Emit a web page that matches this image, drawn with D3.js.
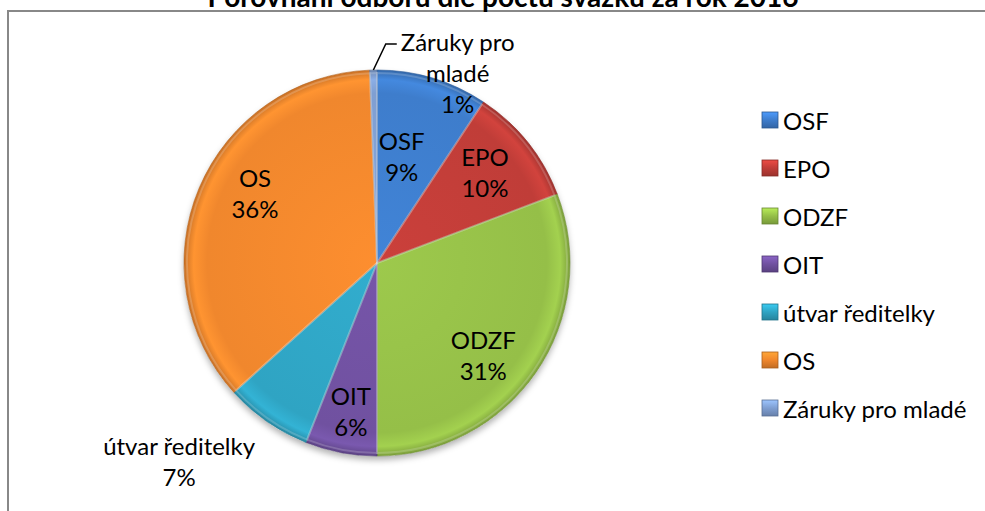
<!DOCTYPE html>
<html>
<head>
<meta charset="utf-8">
<script src="https://cdn.jsdelivr.net/npm/d3@7"></script>
<style>
body { margin: 0; background: #fff; }
svg { font-family: Lato, "Noto Sans", sans-serif; display: block; }
</style>
</head>
<body>
<div class="canvas"></div>
<script>
const title = 'Porovnání odborů dle počtu svazků za rok 2016';
const names = ['OSF', 'EPO', 'ODZF', 'OIT', 'útvar ředitelky', 'OS', 'Záruky pro mladé'];
const shares = [9.3, 9.9, 30.8, 6.0, 7.3, 36.1, 0.6];
const colours = ['#3e7dcc', '#c03d38', '#95bf48', '#7051a0', '#2fa4c3', '#f0872d', '#7f9fd2'];

// label placement: [angle deg from north, distance as fraction of radius]
const labelPolar = [[13, 0.57], [50, 0.73], [131, 0.73], [190, 0.78], [225, 1.45], [300, 0.73], [23, 1.07]];
const labelLines = [['OSF'], ['EPO'], ['ODZF'], ['OIT'], ['útvar ředitelky'], ['OS'], ['Záruky pro', 'mladé']];

const dims = { width: 985, height: 511, radius: 193 };
const cent = { x: 377, y: 263 };
const lineH = 31;
const fontSize = 24;

const data = names.map((n, i) => ({ name: n, value: shares[i], i }));
const total = d3.sum(shares);

const svg = d3.select('.canvas')
    .append('svg')
    .attr('width', dims.width)
    .attr('height', dims.height);

const defs = svg.append('defs');

defs.append('filter')
    .attr('id', 'shadow')
    .attr('x', '-20%').attr('y', '-20%').attr('width', '140%').attr('height', '140%')
    .append('feDropShadow')
    .attr('dx', 0).attr('dy', 4)
    .attr('stdDeviation', 3)
    .attr('flood-color', '#000')
    .attr('flood-opacity', 0.3);

// chart frame (top + left visible)
svg.append('path')
    .attr('d', `M8,${dims.height} V11 H${dims.width}`)
    .attr('fill', 'none')
    .attr('stroke', '#888')
    .attr('stroke-width', 2);

// title, partially cut at the top like the reference
svg.append('text')
    .attr('x', 503)
    .attr('y', 7)
    .attr('text-anchor', 'middle')
    .attr('font-weight', 'bold')
    .attr('font-size', 28)
    .attr('fill', '#000')
    .text(title);

const colour = d3.scaleOrdinal().domain(names).range(colours);

const pie = d3.pie()
    .sort(null)
    .value(d => d.value);

const arcPath = d3.arc()
    .outerRadius(dims.radius)
    .innerRadius(0);

// gradients for a soft bevel look
data.forEach(d => {
    const c = colour(d.name);
    const g = defs.append('radialGradient')
        .attr('id', `grad${d.i}`)
        .attr('gradientUnits', 'userSpaceOnUse')
        .attr('cx', 0).attr('cy', 0).attr('r', dims.radius);
    g.append('stop').attr('offset', '0%').attr('stop-color', d3.color(c).brighter(0.15));
    g.append('stop').attr('offset', '88%').attr('stop-color', c);
    g.append('stop').attr('offset', '95%').attr('stop-color', d3.color(c).brighter(0.25));
    g.append('stop').attr('offset', '100%').attr('stop-color', d3.color(c).darker(0.5));

    const lg = defs.append('linearGradient')
        .attr('id', `leg${d.i}`)
        .attr('x1', 0).attr('y1', 0).attr('x2', 0).attr('y2', 1);
    lg.append('stop').attr('offset', '0%').attr('stop-color', d3.color(c).brighter(0.6));
    lg.append('stop').attr('offset', '50%').attr('stop-color', c);
    lg.append('stop').attr('offset', '100%').attr('stop-color', d3.color(c).darker(0.6));
});

const graph = svg.append('g')
    .attr('transform', `translate(${cent.x}, ${cent.y})`);

graph.append('circle')
    .attr('r', dims.radius)
    .attr('fill', '#fff')
    .attr('filter', 'url(#shadow)');

const arcs = pie(data);

graph.selectAll('path.arc')
    .data(arcs)
    .enter()
    .append('path')
    .attr('class', 'arc')
    .attr('d', arcPath)
    .attr('fill', d => `url(#grad${d.data.i})`)
    .attr('stroke', d => d3.color(colour(d.data.name)).darker(0.8))
    .attr('stroke-opacity', 0.6)
    .attr('stroke-width', 1);

// light edge highlight
graph.selectAll('path.hl')
    .data(arcs)
    .enter()
    .append('path')
    .attr('class', 'hl')
    .attr('d', d3.arc().outerRadius(dims.radius - 3).innerRadius(0))
    .attr('fill', 'none')
    .attr('stroke', '#fff')
    .attr('stroke-opacity', 0.18)
    .attr('stroke-width', 2);

// data labels
const polar = (deg, r) => {
    const a = deg * Math.PI / 180;
    return [Math.sin(a) * r, -Math.cos(a) * r];
};

const labels = graph.selectAll('g.label')
    .data(arcs)
    .enter()
    .append('g')
    .attr('class', 'label')
    .each(function (d) {
        const i = d.data.i;
        const [deg, k] = labelPolar[i];
        const [x, y] = polar(deg, k * dims.radius);
        const pct = Math.round(d.data.value / total * 100) + '%';
        const lines = labelLines[i].concat([pct]);
        const g = d3.select(this);
        lines.forEach((t, j) => {
            g.append('text')
                .attr('x', x)
                .attr('y', y + (j - (lines.length - 1) / 2) * lineH)
                .attr('text-anchor', 'middle')
                .attr('dominant-baseline', 'central')
                .attr('font-size', fontSize)
                .attr('fill', '#000')
                .text(t);
        });
    });

// leader line for the small slice
const small = arcs[6];
const smallMid = (small.startAngle + small.endAngle) / 2 * 180 / Math.PI;
const [sx, sy] = polar(smallMid, dims.radius);
const firstLine = labels.filter(d => d.data.i === 6).select('text').node().getBBox();
const ly = firstLine.y + firstLine.height / 2 + 2;
graph.append('path')
    .attr('d', `M${sx},${sy} L${firstLine.x - 15},${ly} H${firstLine.x - 4}`)
    .attr('fill', 'none')
    .attr('stroke', '#000')
    .attr('stroke-width', 1.5);

// legend
const legendGroup = svg.append('g')
    .attr('transform', 'translate(762, 120)');

const legendItem = legendGroup.selectAll('g')
    .data(data)
    .enter()
    .append('g')
    .attr('transform', (d, i) => `translate(0, ${i * 48})`);

legendItem.append('rect')
    .attr('x', 0).attr('y', -8)
    .attr('width', 16).attr('height', 16)
    .attr('fill', d => `url(#leg${d.i})`)
    .attr('stroke', d => d3.color(colour(d.name)).darker(1))
    .attr('stroke-width', 0.8);

legendItem.append('text')
    .attr('x', 21)
    .attr('y', 0)
    .attr('dominant-baseline', 'central')
    .attr('font-size', fontSize)
    .attr('fill', '#000')
    .text(d => d.name);
</script>
</body>
</html>
